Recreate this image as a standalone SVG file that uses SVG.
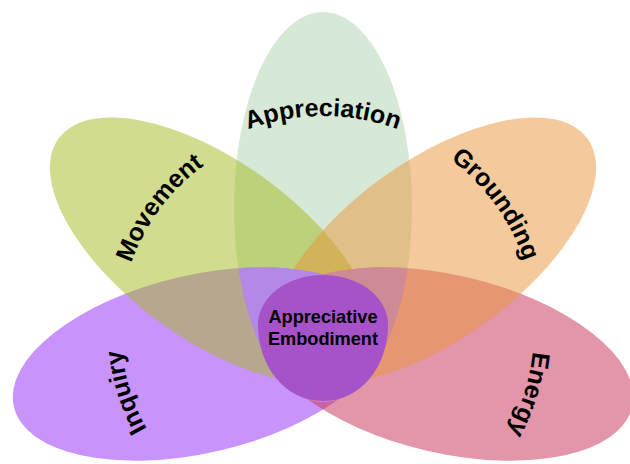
<svg xmlns="http://www.w3.org/2000/svg" width="630" height="464" viewBox="0 0 630 464">
<style>
.petal{fill-opacity:0.5;stroke:none}
.lbl{font-family:"Liberation Sans",Arial,sans-serif;font-weight:bold;font-size:25px;fill:#000}
.ctr{font-family:"Liberation Sans",Arial,sans-serif;font-weight:bold;font-size:19px;fill:#000;text-anchor:middle}
</style>
<defs>
<path id="pA" d="M185.4 166.1 A214 214 0 0 1 460.6 166.1"/>
<path id="pM" d="M120.3 341.7 A203 203 0 0 1 276.3 132.5"/>
<path id="pG" d="M377 124 A212 212 0 0 1 535 342"/>
<path id="pI" d="M214.5 500.4 A202 202 0 0 1 136.4 252.7"/>
<path id="pE" d="M518 250 A211 211 0 0 1 438 507"/>
<ellipse id="eA" cx="323" cy="207" rx="89" ry="195"/>
<ellipse id="eI" cx="0" cy="0" rx="190" ry="89" transform="translate(199 364) rotate(-13)"/>
<ellipse id="eE" cx="0" cy="0" rx="190" ry="89" transform="translate(447 364) rotate(13)"/>
<clipPath id="clipA"><use href="#eA"/></clipPath>
</defs>
<rect width="630" height="464" fill="#fff"/>
<g id="appreciation">
<use href="#eA" class="petal" fill="#add1ad"/>
<text class="lbl"><textPath href="#pA" startOffset="50%" text-anchor="middle">Appreciation</textPath></text>
</g>
<g id="inquiry">
<use href="#eI" class="petal" fill="#9129f9"/>
<text class="lbl"><textPath href="#pI" startOffset="50%" text-anchor="middle">Inquiry</textPath></text>
</g>
<g id="energy">
<use href="#eE" class="petal" fill="#c72d55"/>
<text class="lbl"><textPath href="#pE" startOffset="50%" text-anchor="middle">Energy</textPath></text>
</g>
<g id="movement">
<ellipse class="petal" cx="0" cy="0" rx="190" ry="89" transform="translate(212.3 250.3) rotate(36)" fill="#a3b91f"/>
<text class="lbl"><textPath href="#pM" startOffset="50%" text-anchor="middle">Movement</textPath></text>
</g>
<g id="grounding">
<ellipse class="petal" cx="0" cy="0" rx="190" ry="89" transform="translate(433.7 250.3) rotate(-36)" fill="#e99539"/>
<text class="lbl"><textPath href="#pG" startOffset="50%" text-anchor="middle">Grounding</textPath></text>
</g>
<g id="overlaps" clip-path="url(#clipA)">
<use href="#eI" fill="#b388e7"/>
<use href="#eE" fill="#ce8a95"/>
</g>
<g id="center">
<path d="M323 275 C359 275 388 297 388 325 C388 365 362 401 323 401 C284 401 258 365 258 325 C258 297 287 275 323 275 Z" fill="#a652c8"/>
<text class="ctr" x="323" y="323" textLength="109" lengthAdjust="spacingAndGlyphs">Appreciative</text>
<text class="ctr" x="323" y="345" textLength="110" lengthAdjust="spacingAndGlyphs">Embodiment</text>
</g>
</svg>
